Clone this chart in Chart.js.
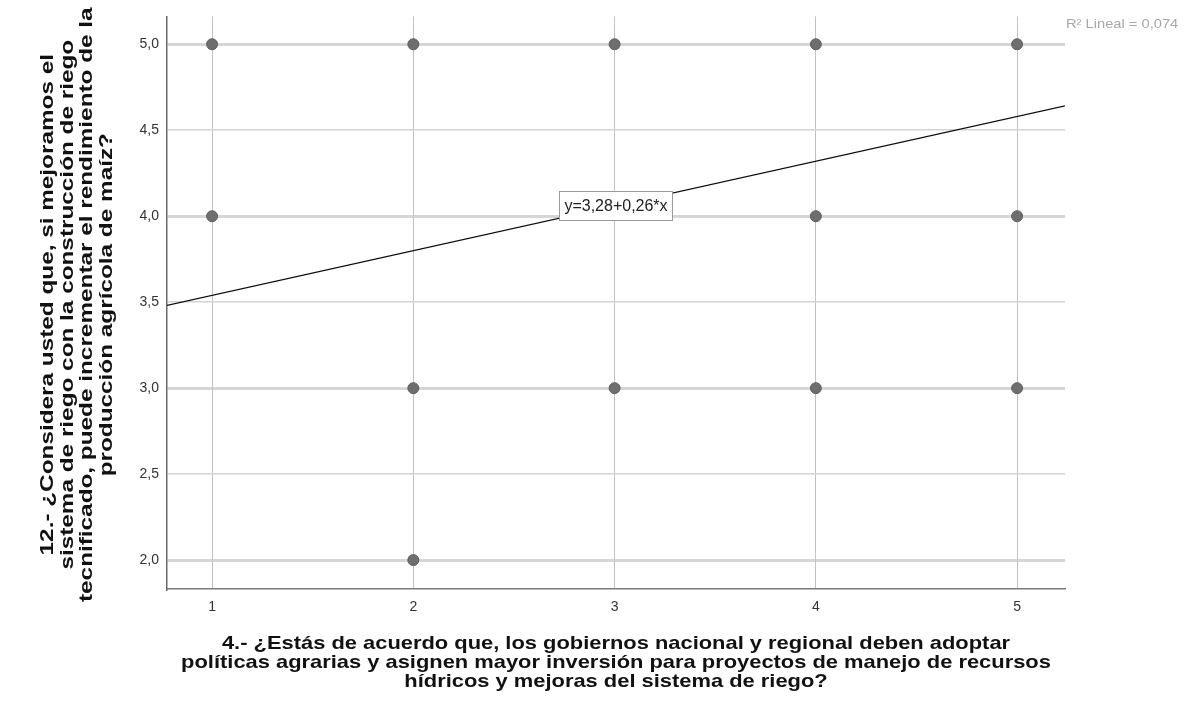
<!DOCTYPE html>
<html>
<head>
<meta charset="utf-8">
<script src="https://cdn.jsdelivr.net/npm/chart.js@4.4.1/dist/chart.umd.min.js"></script>
<style>
  html, body { margin: 0; padding: 0; background: #ffffff; }
  #wrap { width: 1187px; height: 725px; }
</style>
</head>
<body>
<div id="wrap"><canvas id="c" width="1187" height="725"></canvas></div>
<script>
// Responses: item 4 (x) against item 12 (y), one point per observed pair
const xValues = [1, 1, 2, 2, 2, 3, 3, 4, 4, 4, 5, 5, 5];
const yValues = [5, 4, 5, 3, 2, 5, 3, 5, 4, 3, 5, 4, 3];

// Axis ticks
const xTicks = [1, 2, 3, 4, 5];
const yTicks = [2.0, 2.5, 3.0, 3.5, 4.0, 4.5, 5.0];

// Axis ranges
const xRange = [0.776, 5.238];
const yRange = [1.832, 5.162];

// Fitted line y = a + b*x and its fit statistic
const intercept = 3.28;
const slope = 0.26;
const rSquared = 0.074;

const xTitle = [
  '4.- ¿Estás de acuerdo que, los gobiernos nacional y regional deben adoptar',
  'políticas agrarias y asignen mayor inversión para proyectos de manejo de recursos',
  'hídricos y mejoras del sistema de riego?'
];
const yTitle = [
  '12.- ¿Considera usted que, si mejoramos el',
  'sistema de riego con la construcción de riego',
  'tecnificado, puede incrementar el rendimiento de la',
  'producción agrícola de maíz?'
];

const fmt = v => v.toFixed(2).replace('.', ',');
const points = xValues.map((x, i) => ({ x: x, y: yValues[i] }));
const fitLine = [xRange[0], xRange[1]].map(x => ({ x: x, y: intercept + slope * x }));
const FONT = '"Liberation Sans", Arial, sans-serif';

// Draws one line of text centred at (x, y), widened along its reading direction
function wideText(ctx, text, x, y, stretch, angle) {
  ctx.save();
  ctx.translate(x, y);
  if (angle) ctx.rotate(angle);
  ctx.scale(stretch, 1);
  ctx.fillText(text, 0, 0);
  ctx.restore();
}

// Axis titles, equation label on the fitted line and the R² note
const annotations = {
  id: 'annotations',
  afterDraw(chart) {
    const { ctx, scales, chartArea } = chart;
    ctx.save();
    ctx.textAlign = 'center';
    ctx.textBaseline = 'middle';

    // x-axis title
    ctx.font = 'bold 19px ' + FONT;
    ctx.fillStyle = '#111111';
    const xMid = (chartArea.left + chartArea.right) / 2;
    xTitle.forEach((line, i) => wideText(ctx, line, xMid, 644 + i * 19, 1.152, 0));

    // y-axis title (reads bottom to top)
    const yMid = (chartArea.top + chartArea.bottom) / 2 + 2;
    yTitle.forEach((line, i) => wideText(ctx, line, 48 + i * 19.5, yMid, 1.28, -Math.PI / 2));

    // equation label
    const midX = (xRange[0] + xRange[1]) / 2;
    const px = scales.x.getPixelForValue(midX);
    const py = scales.y.getPixelForValue(intercept + slope * midX);
    const text = 'y=' + fmt(intercept) + '+' + fmt(slope) + '*x';
    ctx.font = '16px ' + FONT;
    const w = Math.round(ctx.measureText(text).width + 10);
    const h = 29;
    const bx = Math.round(px - w / 2) + 0.5;
    const by = Math.round(py - h / 2) + 0.5;
    ctx.fillStyle = '#ffffff';
    ctx.fillRect(bx, by, w, h);
    ctx.strokeStyle = '#9a9a9a';
    ctx.lineWidth = 1;
    ctx.strokeRect(bx, by, w, h);
    ctx.fillStyle = '#222222';
    ctx.fillText(text, px, py + 1);

    // R² note
    ctx.font = '13px ' + FONT;
    ctx.fillStyle = '#a8a8a8';
    ctx.textAlign = 'left';
    ctx.save();
    ctx.translate(chartArea.right + 1, 24);
    ctx.scale(1.13, 1);
    ctx.fillText('R² Lineal = ' + rSquared.toFixed(3).replace('.', ','), 0, 0);
    ctx.restore();

    ctx.restore();
  }
};

new Chart(document.getElementById('c'), {
  type: 'scatter',
  data: {
    datasets: [
      {
        label: 'Observaciones',
        data: points,
        backgroundColor: '#6e6e6e',
        borderColor: '#5e5e5e',
        borderWidth: 1,
        pointRadius: 5.5,
        pointHoverRadius: 5.5,
        order: 2
      },
      {
        type: 'line',
        label: 'Lineal',
        data: fitLine,
        borderColor: '#111111',
        borderWidth: 1.3,
        pointRadius: 0,
        fill: false,
        order: 1
      }
    ]
  },
  options: {
    responsive: false,
    animation: false,
    events: [],
    layout: { padding: { top: 13, right: 122, left: 0, bottom: 0 } },
    plugins: { legend: { display: false }, tooltip: { enabled: false } },
    scales: {
      x: {
        type: 'linear',
        min: xRange[0],
        max: xRange[1],
        afterBuildTicks: s => { s.ticks = xTicks.map(v => ({ value: v })); },
        afterFit: s => { s.height = 136; },
        ticks: {
          padding: 10,
          color: '#333333',
          font: { family: FONT, size: 14 },
          callback: v => String(v)
        },
        grid: { color: '#c2c2c2', lineWidth: 1, drawTicks: false },
        border: { color: '#7a7a7a', width: 1.5 },
        title: { display: false }
      },
      y: {
        type: 'linear',
        min: yRange[0],
        max: yRange[1],
        afterBuildTicks: s => { s.ticks = yTicks.map(v => ({ value: v })); },
        afterFit: s => { s.width = 167; },
        ticks: {
          padding: 8,
          color: '#333333',
          font: { family: FONT, size: 14 },
          callback: v => v.toFixed(1).replace('.', ',')
        },
        grid: {
          drawTicks: false,
          color: c => (c.tick && Number.isInteger(c.tick.value)) ? 'rgba(200,200,200,0.75)' : '#d4d4d4',
          lineWidth: c => (c.tick && Number.isInteger(c.tick.value)) ? 3 : 1.5
        },
        border: { color: '#6a6a6a', width: 1.5 },
        title: { display: false }
      }
    }
  },
  plugins: [annotations]
});
</script>
</body>
</html>
